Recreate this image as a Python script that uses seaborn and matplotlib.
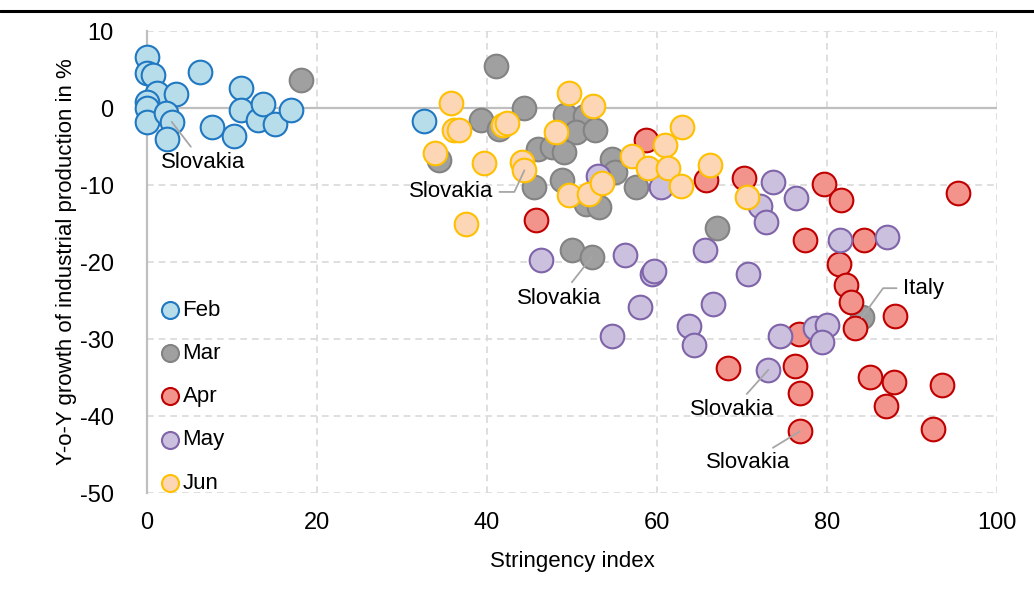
import matplotlib
matplotlib.use("Agg")
import matplotlib.pyplot as plt
from matplotlib.lines import Line2D
import seaborn as sns
import pandas as pd

# stringency index (x) and y-o-y industrial production growth (y) per month
feb_x = [0.0, 0.0, 0.7, 6.2, 1.2, 3.4, 11.1, 0.0, 0.0, 0.0, 2.2, 2.9, 2.3, 7.6,
         10.2, 11.1, 13.1, 13.7, 15.1, 16.9, 32.6]
feb_y = [6.6, 4.5, 4.3, 4.7, 2.0, 1.8, 2.6, 0.8, 0.0, -1.8, -0.6, -1.8, -4.0, -2.5,
         -3.6, -0.3, -1.6, 0.5, -2.1, -0.3, -1.7]

mar_x = [18.1, 34.3, 39.3, 41.1, 41.4, 44.3, 49.2, 51.5, 50.5, 52.7, 46.0, 47.6,
         49.0, 45.5, 48.8, 54.7, 55.1, 51.7, 53.2, 57.5, 67.1, 50.0, 52.3, 84.1]
mar_y = [3.6, -6.7, -1.6, 5.4, -2.7, 0.0, -0.9, -1.1, -3.1, -2.8, -5.3, -5.1,
         -5.7, -10.2, -9.4, -6.6, -8.3, -12.5, -12.8, -10.2, -15.6, -18.4, -19.4, -27.2]

apr_x = [45.8, 58.7, 65.8, 70.2, 79.6, 81.7, 95.4, 77.4, 84.3, 81.4, 82.2, 82.8,
         83.3, 88.0, 76.7, 68.4, 76.2, 76.8, 76.8, 85.1, 87.9, 93.5, 87.0, 92.5]
apr_y = [-14.5, -4.1, -9.3, -9.1, -9.9, -11.9, -11.1, -17.1, -17.1, -20.2, -23.0, -25.2,
         -28.6, -27.0, -29.4, -33.8, -33.5, -37.0, -42.0, -34.9, -35.6, -36.0, -38.7, -41.7]

may_x = [53.1, 60.5, 73.7, 72.1, 72.8, 76.4, 65.7, 81.5, 87.1, 70.7, 66.6, 63.8,
         64.3, 74.5, 78.6, 80.0, 79.4, 73.1, 46.3, 56.2, 59.4, 59.6, 58.0, 54.7]
may_y = [-8.8, -10.2, -9.6, -12.7, -14.8, -11.7, -18.4, -17.2, -16.7, -21.5, -25.4, -28.3,
         -30.8, -29.6, -28.6, -28.2, -30.4, -34.0, -19.7, -19.1, -21.5, -21.2, -25.9, -29.6]

jun_x = [35.8, 36.1, 36.7, 33.9, 39.6, 37.5, 41.9, 42.4, 49.6, 52.5, 48.1, 44.1,
         44.4, 49.7, 52.0, 53.5, 57.1, 60.9, 62.9, 58.9, 61.3, 62.8, 66.2, 70.6]
jun_y = [0.6, -2.9, -2.8, -5.8, -7.1, -15.0, -2.2, -2.0, 1.9, 0.2, -3.1, -7.0,
         -8.1, -11.3, -11.2, -9.8, -6.2, -4.8, -2.5, -7.8, -7.8, -10.1, -7.4, -11.6]

months = ["Feb", "Mar", "Apr", "May", "Jun"]
face_colors = ["#b7dcea", "#a0a0a0", "#f2938c", "#cbc0de", "#fdd6b5"]
edge_colors = ["#1f78c1", "#838383", "#c00000", "#7f64a9", "#ffc000"]

frames = []
for m, xs, ys in zip(months, [feb_x, mar_x, apr_x, may_x, jun_x],
                     [feb_y, mar_y, apr_y, may_y, jun_y]):
    frames.append(pd.DataFrame({"stringency": xs, "growth": ys, "month": m}))
df = pd.concat(frames, ignore_index=True)

sns.set_style("white")
plt.rcParams["font.family"] = ["Liberation Sans", "DejaVu Sans"]
plt.rcParams["axes.unicode_minus"] = False
plt.rcParams["text.color"] = "black"
plt.rcParams["axes.labelcolor"] = "black"
plt.rcParams["xtick.color"] = "black"
plt.rcParams["ytick.color"] = "black"

fig = plt.figure(figsize=(10.34, 6.01), dpi=100)
ax = fig.add_axes([0.1422, 0.1797, 0.822, 0.7687])

for i, m in enumerate(months):
    sns.scatterplot(data=df[df["month"] == m], x="stringency", y="growth",
                    color=face_colors[i], edgecolor=edge_colors[i], linewidth=1.5,
                    s=290, label=m, ax=ax, clip_on=False, zorder=3 + i)

ax.set_xlim(0, 100)
ax.set_ylim(-50, 10)
ax.set_xticks(range(0, 101, 20))
ax.set_yticks(range(-50, 11, 10))
ax.grid(True, linestyle=(0, (4, 3)), color="#d9d9d9", linewidth=1.2)
ax.axhline(0, color="#bfbfbf", linewidth=1.6, zorder=2)
for side in ["top", "right", "bottom"]:
    ax.spines[side].set_visible(False)
ax.spines["left"].set_color("#bfbfbf")
ax.spines["left"].set_linewidth(1.6)
ax.tick_params(length=0, labelsize=17)
ax.tick_params(axis="y", pad=24)
ax.tick_params(axis="x", pad=14)

ax.set_xlabel("Stringency index", fontsize=16, labelpad=12)
ax.set_ylabel("Y-o-Y growth of industrial production in %", fontsize=16, labelpad=2)

# annotations
line_kw = dict(arrowstyle="-", color="#a6a6a6", linewidth=1.3)
txt_kw = dict(fontsize=16, ha="center", va="center", zorder=10, color="black")
ax.annotate("Slovakia", xy=(2.9, -1.8), xytext=(6.6, -7.1),
            arrowprops=dict(**line_kw, shrinkB=0), **txt_kw)
ax.annotate("Slovakia", xy=(44.4, -8.1), xytext=(35.8, -10.9),
            arrowprops=dict(**line_kw, shrinkB=0,
                            connectionstyle="angle,angleA=0,angleB=65,rad=0"), **txt_kw)
ax.annotate("Slovakia", xy=(52.3, -19.4), xytext=(48.5, -24.7),
            arrowprops=dict(**line_kw, shrinkB=0), **txt_kw)
ax.annotate("Italy", xy=(84.1, -27.2), xytext=(91.3, -23.4),
            arrowprops=dict(**line_kw, shrinkB=0,
                            connectionstyle="angle,angleA=0,angleB=54,rad=0"), **txt_kw)
ax.annotate("Slovakia", xy=(73.1, -34.0), xytext=(68.9, -39.2),
            arrowprops=dict(**line_kw, shrinkB=0), **txt_kw)
ax.annotate("Slovakia", xy=(76.8, -42.0), xytext=(70.7, -46.1),
            arrowprops=dict(**line_kw, shrinkB=0), **txt_kw)

leg = ax.legend(loc="lower left", bbox_to_anchor=(-0.008, -0.035), frameon=False,
                fontsize=16, markerscale=0.72, labelspacing=1.0,
                handletextpad=-0.1, handlelength=1.3, borderaxespad=0.3)
leg.set_zorder(20)

fig.add_artist(Line2D([0, 1], [1 - 10.5 / 601, 1 - 10.5 / 601],
                      color="black", linewidth=2.2, transform=fig.transFigure))

fig.savefig("out.png", dpi=100)
